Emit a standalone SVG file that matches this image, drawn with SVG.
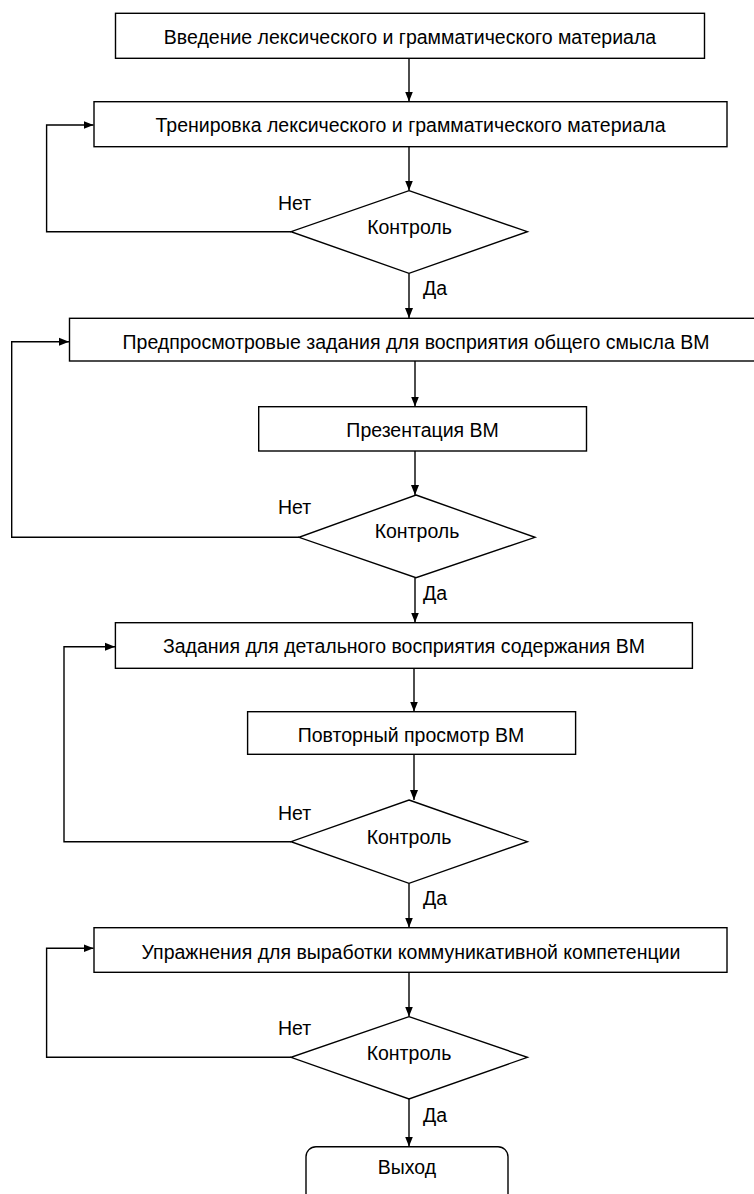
<svg xmlns="http://www.w3.org/2000/svg" width="754" height="1194" viewBox="0 0 754 1194">
<style>
.box{fill:#fff;stroke:#000;stroke-width:1.4}
.ln{fill:none;stroke:#000;stroke-width:1.4}
text{font-family:"Liberation Sans",Arial,sans-serif;font-size:19.5px;fill:#000}
.c{text-anchor:middle}
</style>
<defs>
<marker id="ah" markerUnits="userSpaceOnUse" markerWidth="10" markerHeight="10" viewBox="0 0 10 10" refX="10" refY="5" orient="auto">
<path d="M0,1 L10,5 L0,9 z" fill="#000"/>
</marker>
</defs>
<rect width="754" height="1194" fill="#fff"/>
<g id="connectors">
<path class="ln" d="M409,58 V101.5" marker-end="url(#ah)"/>
<path class="ln" d="M409,147 V190.5" marker-end="url(#ah)"/>
<path class="ln" d="M291,231.7 H46.6 V125 H93.5" marker-end="url(#ah)"/>
<path class="ln" d="M409,273.3 V318" marker-end="url(#ah)"/>
<path class="ln" d="M415,361 V406.5" marker-end="url(#ah)"/>
<path class="ln" d="M415,451 V495" marker-end="url(#ah)"/>
<path class="ln" d="M299,537.3 H11.7 V341.7 H69" marker-end="url(#ah)"/>
<path class="ln" d="M415,577.7 V622.5" marker-end="url(#ah)"/>
<path class="ln" d="M414,668.3 V711.5" marker-end="url(#ah)"/>
<path class="ln" d="M414,754.3 V800" marker-end="url(#ah)"/>
<path class="ln" d="M291,841.7 H64 V646.7 H115" marker-end="url(#ah)"/>
<path class="ln" d="M409,883.3 V927.5" marker-end="url(#ah)"/>
<path class="ln" d="M409,972.3 V1016.5" marker-end="url(#ah)"/>
<path class="ln" d="M291,1057.3 H46.6 V948.3 H93.5" marker-end="url(#ah)"/>
<path class="ln" d="M409,1099 V1146.5" marker-end="url(#ah)"/>
</g>
<g id="n1"><rect class="box" x="115.5" y="13.3" width="589" height="45"/><text class="c" x="410" y="44.2">Введение лексического и грамматического материала</text></g>
<g id="n2"><rect class="box" x="94" y="101.7" width="633" height="45"/><text class="c" x="410.5" y="132.3">Тренировка лексического и грамматического материала</text></g>
<g id="d1"><polygon class="box" points="409,190.7 527.4,231.7 409,273.3 291,231.7"/><text class="c" x="409.5" y="234">Контроль</text></g>
<g id="n3"><rect class="box" x="69.5" y="318.3" width="700" height="42.7"/><text class="c" x="416" y="349">Предпросмотровые задания для восприятия общего смысла ВМ</text></g>
<g id="n4"><rect class="box" x="258.7" y="406.7" width="327.8" height="44.3"/><text class="c" x="422.6" y="436.6">Презентация ВМ</text></g>
<g id="d2"><polygon class="box" points="416,495 535,537.3 416,577.7 299,537.3"/><text class="c" x="417" y="538">Контроль</text></g>
<g id="n5"><rect class="box" x="115.4" y="622.7" width="577" height="45.6"/><text class="c" x="404" y="653">Задания для детального восприятия содержания ВМ</text></g>
<g id="n6"><rect class="box" x="247.6" y="711.7" width="328" height="42.6"/><text class="c" x="411" y="742.3">Повторный просмотр ВМ</text></g>
<g id="d3"><polygon class="box" points="409,800 527.4,841.7 409,883.3 291,841.7"/><text class="c" x="409" y="844">Контроль</text></g>
<g id="n7"><rect class="box" x="94" y="927.7" width="633" height="44.6"/><text class="c" x="411" y="959">Упражнения для выработки коммуникативной компетенции</text></g>
<g id="d4"><polygon class="box" points="409,1016.7 527.4,1057.3 409,1099 291,1057.3"/><text class="c" x="409" y="1059.6">Контроль</text></g>
<g id="exit"><rect class="box" x="306" y="1146.7" width="202" height="70" rx="10"/><text class="c" x="407" y="1174">Выход</text></g>
<g id="labels">
<text x="278" y="209.8">Нет</text><text x="423" y="295.4">Да</text>
<text x="278" y="514.4">Нет</text><text x="423" y="600.4">Да</text>
<text x="278" y="819.8">Нет</text><text x="423" y="905.4">Да</text>
<text x="278" y="1035.4">Нет</text><text x="423" y="1122">Да</text>
</g>
</svg>
